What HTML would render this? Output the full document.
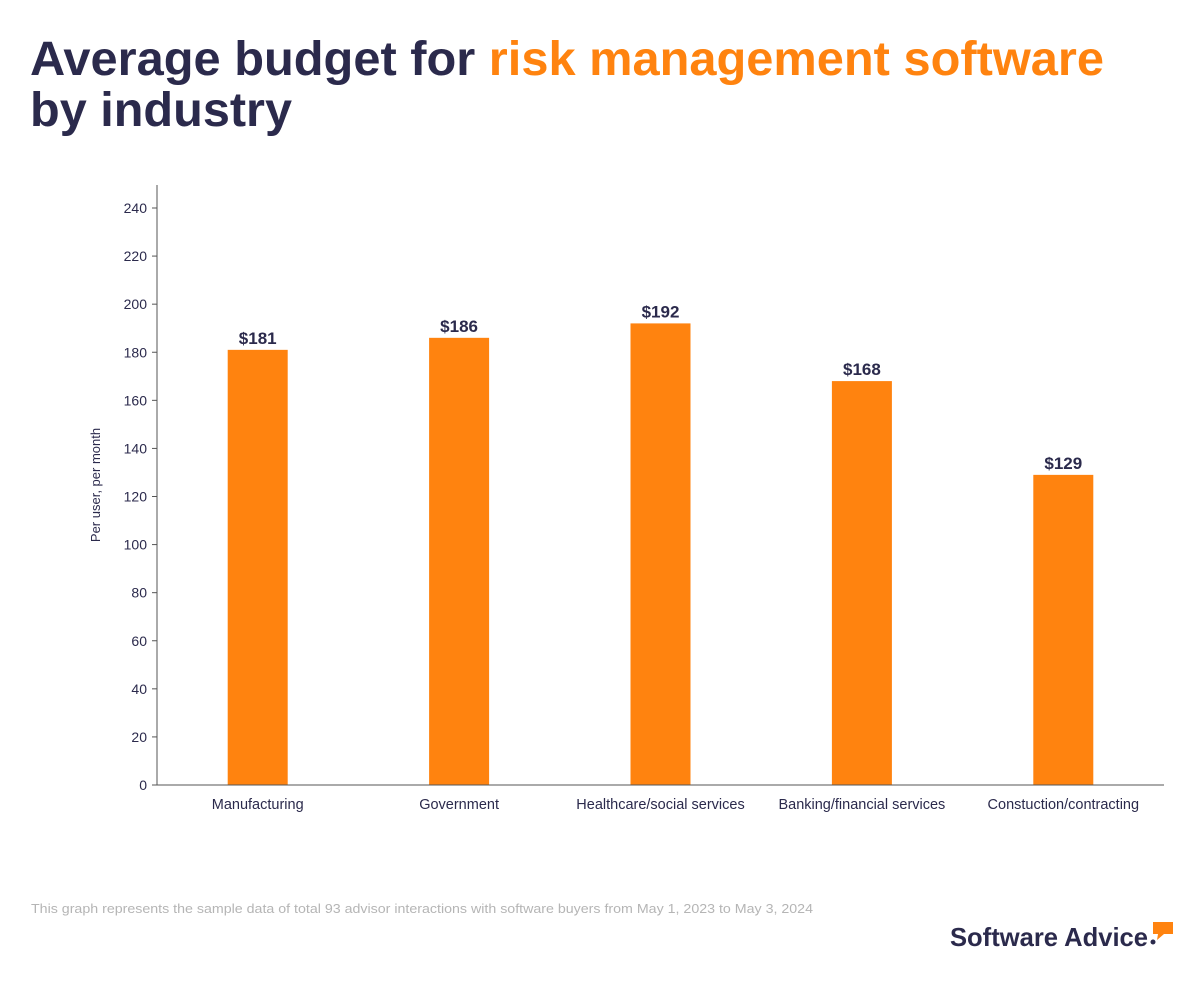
<!DOCTYPE html>
<html><head><meta charset="utf-8"><style>
html,body{margin:0;padding:0;background:#fff;}
svg{display:block;font-family:"Liberation Sans",sans-serif;}
</style></head><body>
<svg id="chart" width="1200" height="1000" viewBox="0 0 1200 1000">
  <text x="30" y="75" font-size="48" font-weight="bold" fill="#2b2a4c" textLength="1074" lengthAdjust="spacingAndGlyphs">Average budget for <tspan fill="#ff830f">risk management software</tspan></text>
  <text x="30" y="126" font-size="48" font-weight="bold" fill="#2b2a4c" textLength="262" lengthAdjust="spacingAndGlyphs">by industry</text>
  <g id="plot"></g>
  <text x="100" y="485" font-size="13" fill="#2b2a4c" text-anchor="middle" transform="rotate(-90 100 485)">Per user, per month</text>
  <text x="31" y="913" font-size="13" fill="#b5b5b5" textLength="782" lengthAdjust="spacingAndGlyphs">This graph represents the sample data of total 93 advisor interactions with software buyers from May 1, 2023 to May 3, 2024</text>
  <g>
    <text x="950" y="946" font-size="26" font-weight="bold" fill="#2b2a4c" textLength="198" lengthAdjust="spacingAndGlyphs">Software Advice</text>
    <circle cx="1153" cy="942" r="2.5" fill="#2b2a4c"/>
    <path d="M1153 922 H1173 V934 H1164 L1157 940 L1158 934 H1153 Z" fill="#ff830f"/>
  </g>
</svg>
<script>
const categories = ["Manufacturing","Government","Healthcare/social services","Banking/financial services","Constuction/contracting"];
const values = [181,186,192,168,129];
const valueLabels = ["$181","$186","$192","$168","$129"];
const yTicks = [0,20,40,60,80,100,120,140,160,180,200,220,240];

const NS = "http://www.w3.org/2000/svg";
const g = document.getElementById("plot");
const x0 = 157, x1 = 1164, yBase = 785, yTop = 208, yMaxVal = 240;
const band = (x1 - x0) / categories.length;
const yScale = v => yBase - (v / yMaxVal) * (yBase - yTop);
const xCenter = i => x0 + band * (i + 0.5);
function el(tag, attrs, text) {
  const e = document.createElementNS(NS, tag);
  for (const k in attrs) e.setAttribute(k, attrs[k]);
  if (text !== undefined) e.textContent = text;
  g.appendChild(e);
  return e;
}
yTicks.forEach(t => {
  const y = yScale(t);
  const tk = el("line", {x1: x0 - 5, x2: x0, y1: y, y2: y, stroke: "#555", "stroke-width": 1});
  
  
  const lb = el("text", {x: x0 - 10, y: y + 5, "font-size": 14, fill: "#2b2a4c", "text-anchor": "end"}, String(t));
  
  
});
categories.forEach((c, i) => {
  const cx = xCenter(i), y = yScale(values[i]);
  const b = el("rect", {x: cx - 30, y: y, width: 60, height: yBase - y, fill: "#ff830f"});
  
  
  const v = el("text", {x: cx, y: y - 6, "font-size": 17, "font-weight": "bold", fill: "#2b2a4c", "text-anchor": "middle"}, valueLabels[i]);
  
  
  const cl = el("text", {x: cx, y: yBase + 24, "font-size": 14.5, fill: "#2b2a4c", "text-anchor": "middle"}, c);
  
  
});
const ya = el("line", {x1: x0, x2: x0, y1: 185, y2: yBase, stroke: "#555", "stroke-width": 1});


const xa = el("line", {x1: x0, x2: x1, y1: yBase, y2: yBase, stroke: "#555", "stroke-width": 1});


</script>
</body></html>
